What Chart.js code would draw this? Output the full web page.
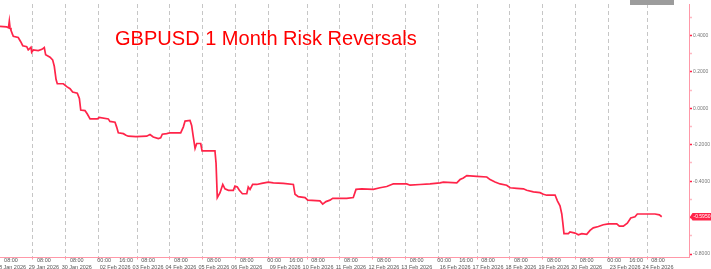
<!DOCTYPE html>
<html><head><meta charset="utf-8">
<script src="https://cdn.jsdelivr.net/npm/chart.js@4.4.1/dist/chart.umd.min.js"></script>
<style>html,body{margin:0;padding:0;background:#fff;overflow:hidden}canvas{display:block}</style>
</head><body>
<canvas id="c" width="711" height="269"></canvas>
<script>
const chartTitle = 'GBPUSD 1 Month Risk Reversals';

// trading days shown on the axis (weekends removed)
const dayLabels = ['28 Jan 2026','29 Jan 2026','30 Jan 2026','02 Feb 2026','03 Feb 2026','04 Feb 2026','05 Feb 2026','06 Feb 2026','09 Feb 2026','10 Feb 2026','11 Feb 2026','12 Feb 2026','13 Feb 2026','16 Feb 2026','17 Feb 2026','18 Feb 2026','19 Feb 2026','20 Feb 2026','23 Feb 2026','24 Feb 2026'];
// start of each day's session, in trading hours since 28 Jan 2026 00:00
const dayStartHours = [0,24,48,72,100,124,148,172,196,224,248,272,296,320,348,372,396,420,444,472];
// Monday sessions open on Sunday evening
const mondayLabels = ['02 Feb 2026','09 Feb 2026','16 Feb 2026','23 Feb 2026'];
const sundayOpenHours = 4;
const axisEndHours = 502.6;

// series: trading hours since start, and 1M risk reversal value
const sessionHours = [0,4.9,6.2,6.8,7.3,8.0,9.7,13.3,15.1,16.6,19.5,20.6,22.6,23.1,24.3,27.9,30.6,32.3,33.3,36.5,38.4,39.6,40.9,41.8,46.2,48.7,51.1,53.0,56.4,57.9,58.9,62.0,63.7,65.7,71.0,72.4,79.0,80.2,83.9,85.1,86.3,90.0,91.9,93.6,99.2,107.0,109.4,111.8,115.5,117.2,118.4,121.6,124.0,127.7,131.8,133.7,135.0,138.6,139.8,141.0,142.3,143.5,146.4,147.4,156.8,157.6,158.5,160.5,162.5,164.1,166.6,170.2,171.4,173.1,174.6,176.8,180.0,181.1,182.4,184.3,187.3,190.9,195.7,199.4,206.7,214.0,215.2,217.6,222.5,224.5,233.4,235.4,237.8,240.7,242.7,252.9,257.7,259.7,263.9,272.3,277.2,282.1,285.7,286.9,296.7,299.1,306.4,313.7,321.0,323.4,333.2,335.6,338.0,340.5,347.8,355.1,357.5,361.1,364.8,369.6,372.1,376.9,381.8,384.2,389.1,393.9,396.4,398.8,404.9,406.6,408.5,409.8,410.5,411.4,414.6,415.8,419.5,421.9,424.4,428.0,430.4,432.8,436.5,440.1,443.8,449.9,451.8,454.7,457.6,460.1,463.2,464.9,471.8,477.8,481.0,482.7];
const riskReversal = [0.450,0.447,0.443,0.479,0.443,0.429,0.396,0.389,0.366,0.344,0.339,0.321,0.335,0.308,0.321,0.317,0.324,0.334,0.294,0.281,0.266,0.231,0.158,0.135,0.135,0.119,0.108,0.090,0.083,0.054,-0.009,-0.012,-0.031,-0.058,-0.058,-0.050,-0.058,-0.072,-0.076,-0.103,-0.134,-0.139,-0.148,-0.153,-0.155,-0.153,-0.144,-0.157,-0.166,-0.162,-0.142,-0.139,-0.134,-0.135,-0.135,-0.103,-0.070,-0.066,-0.094,-0.157,-0.220,-0.193,-0.193,-0.234,-0.234,-0.301,-0.490,-0.463,-0.418,-0.442,-0.450,-0.450,-0.427,-0.432,-0.450,-0.469,-0.469,-0.432,-0.445,-0.418,-0.418,-0.412,-0.405,-0.409,-0.412,-0.418,-0.472,-0.485,-0.490,-0.504,-0.508,-0.526,-0.512,-0.504,-0.494,-0.494,-0.490,-0.445,-0.442,-0.445,-0.436,-0.429,-0.418,-0.415,-0.415,-0.422,-0.418,-0.415,-0.409,-0.405,-0.409,-0.391,-0.382,-0.369,-0.373,-0.377,-0.391,-0.404,-0.415,-0.422,-0.436,-0.439,-0.442,-0.450,-0.459,-0.463,-0.472,-0.477,-0.476,-0.508,-0.535,-0.580,-0.625,-0.688,-0.688,-0.679,-0.685,-0.694,-0.688,-0.692,-0.670,-0.656,-0.649,-0.639,-0.634,-0.634,-0.647,-0.647,-0.631,-0.602,-0.595,-0.580,-0.580,-0.580,-0.585,-0.595];

// y axis ticks (labelled every 0.2, minor marks every 0.1)
const yTickValues = [-0.8,-0.7,-0.6,-0.5,-0.4,-0.3,-0.2,-0.1,0,0.1,0.2,0.3,0.4,0.5];
const yLabelledTicks = [-0.8,-0.6,-0.4,-0.2,0,0.2,0.4];
const yMin = -0.819, yMax = 0.573;

const lineColor = '#ff2449';
const axisPink = '#ff98a8';

function buildXTicks() {
  const t = [];
  dayLabels.forEach((d, i) => {
    const start = dayStartHours[i];
    if (i > 0) t.push({value: start, lab: '', boundary: true});
    if (mondayLabels.includes(d)) {
      const mid = start + sundayOpenHours;
      t.push({value: mid, lab: ['00:00', '']});
      t.push({value: mid + 8, lab: ['', d]});
      t.push({value: mid + 16, lab: ['16:00', '']});
    } else {
      t.push({value: start + 8, lab: ['08:00', d]});
    }
  });
  return t;
}

const overlay = {
  id: 'overlay',
  beforeDraw(chart) {
    const c = chart.ctx;
    c.save(); c.fillStyle = '#fff'; c.fillRect(0, 0, chart.width, chart.height); c.restore();
  },
  afterDraw(chart) {
    const c = chart.ctx;
    c.save();
    // title
    c.font = '100px "Liberation Sans"';
    const w = c.measureText(chartTitle).width;
    const size = 100 * 302 / w;
    c.font = size.toFixed(2) + 'px "Liberation Sans"';
    c.fillStyle = '#ff0000';
    c.textBaseline = 'alphabetic';
    c.textAlign = 'left';
    c.fillText(chartTitle, 115, 44.5);
    // last value tag
    const ys = chart.scales.y;
    const last = riskReversal[riskReversal.length - 1];
    const py = ys.getPixelForValue(last);
    const x0 = chart.chartArea.right + 1;
    c.fillStyle = lineColor;
    c.beginPath();
    c.moveTo(x0, py); c.lineTo(x0 + 2.5, py - 3.8); c.lineTo(chart.width, py - 3.8);
    c.lineTo(chart.width, py + 3.8); c.lineTo(x0 + 2.5, py + 3.8); c.closePath(); c.fill();
    c.fillStyle = '#fff';
    c.font = '5px "Liberation Sans"';
    c.textBaseline = 'middle';
    c.fillText(last.toFixed(4), x0 + 3.5, py + 0.3);
    // toolbar strip
    c.fillStyle = '#9c9c9c';
    c.fillRect(630, 0, 44, 5);
    c.restore();
  }
};

new Chart(document.getElementById('c'), {
  type: 'line',
  data: {
    datasets: [{
      data: sessionHours.map((h, i) => ({x: h, y: riskReversal[i]})),
      borderColor: lineColor,
      borderWidth: 1.7,
      pointRadius: 0,
      tension: 0,
      fill: false
    }]
  },
  options: {
    responsive: false,
    devicePixelRatio: 1,
    animation: false,
    layout: {padding: 0},
    plugins: {legend: {display: false}, tooltip: {enabled: false}, title: {display: false}},
    scales: {
      x: {
        type: 'linear',
        min: 0,
        max: axisEndHours,
        afterBuildTicks: s => { s.ticks = buildXTicks(); },
        afterFit: s => { s.height = 11.5; s.paddingLeft = 0; s.paddingRight = 0; },
        ticks: {
          autoSkip: false, maxRotation: 0, minRotation: 0,
          padding: -2,
          color: '#555',
          font: {family: 'Liberation Sans', size: 5.5, lineHeight: 1.15},
          callback: (v, i, ticks) => ticks[i].lab
        },
        grid: {
          drawOnChartArea: true,
          tickLength: 2,
          color: ctx => (ctx.tick && ctx.tick.boundary) ? '#c6c6c6' : 'rgba(0,0,0,0)',
          tickColor: ctx => (ctx.tick && ctx.tick.boundary) ? axisPink : 'rgba(0,0,0,0)',
          lineWidth: 1
        },
        border: {display: true, color: axisPink, width: 1, dash: [4, 3]}
      },
      y: {
        type: 'linear',
        position: 'right',
        min: yMin,
        max: yMax,
        afterBuildTicks: s => { s.ticks = yTickValues.map(v => ({value: v, big: yLabelledTicks.includes(v)})); },
        afterFit: s => { s.width = 22; },
        ticks: {
          padding: 1,
          color: '#777',
          font: {family: 'Liberation Sans', size: 5},
          callback: (v, i, ticks) => ticks[i].big ? v.toFixed(4) : ''
        },
        grid: {
          drawOnChartArea: false,
          tickLength: 3,
          tickWidth: 1.5,
          tickColor: ctx => (ctx.tick && ctx.tick.big) ? '#ff2449' : '#ffb8c2'
        },
        border: {display: true, color: axisPink, width: 1}
      }
    }
  },
  plugins: [overlay]
});
</script>
</body></html>
